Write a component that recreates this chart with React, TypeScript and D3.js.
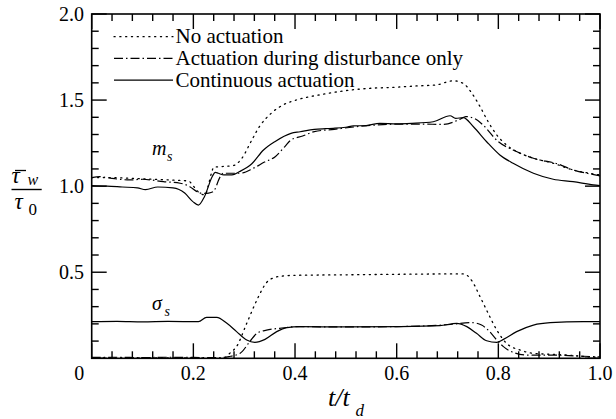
import React from "react";
import * as d3 from "d3";

// ---------- data (t/t_d , tau_w / tau_0) ----------
const xTickLabels = ["0", "0.2", "0.4", "0.6", "0.8", "1.0"];
const xMajorTicks = [0, 0.2, 0.4, 0.6, 0.8, 1.0];
const yTickLabels = ["0.5", "1.0", "1.5", "2.0"];
const yLabeledTicks = [0.5, 1.0, 1.5, 2.0];
const yMajorTicks = [0, 0.5, 1.0, 1.5, 2.0];

const legendLabels = ["No actuation", "Actuation during disturbance only", "Continuous actuation"];

// m_s curves
const msNoActuation: [number, number][] = [
  [0, 1.05], [0.04, 1.05], [0.08, 1.045], [0.12, 1.04], [0.16, 1.035], [0.19, 1.03],
  [0.203, 0.99], [0.213, 0.958], [0.223, 0.95], [0.229, 1.0], [0.236, 1.08], [0.24, 1.11],
  [0.252, 1.113], [0.279, 1.12], [0.295, 1.16], [0.315, 1.268], [0.33, 1.346], [0.353, 1.423],
  [0.376, 1.471], [0.407, 1.504], [0.454, 1.533], [0.5, 1.555], [0.546, 1.568], [0.593, 1.574],
  [0.639, 1.582], [0.678, 1.588], [0.711, 1.612], [0.731, 1.597], [0.748, 1.539], [0.764, 1.462],
  [0.78, 1.374], [0.797, 1.297], [0.816, 1.239], [0.843, 1.191], [0.869, 1.162], [0.908, 1.133],
  [0.947, 1.094], [0.98, 1.075], [1.0, 1.065],
];
const msDuringOnly: [number, number][] = [
  [0, 1.05], [0.016, 1.055], [0.04, 1.045], [0.075, 1.036], [0.1, 1.04], [0.141, 1.026],
  [0.174, 1.017], [0.193, 0.997], [0.207, 0.968], [0.218, 0.958], [0.23, 0.96], [0.239, 0.968],
  [0.253, 1.055], [0.259, 1.075], [0.292, 1.075], [0.318, 1.104], [0.34, 1.14], [0.361, 1.171],
  [0.38, 1.23], [0.392, 1.268], [0.415, 1.291], [0.438, 1.317], [0.477, 1.33], [0.52, 1.345],
  [0.56, 1.355], [0.6, 1.36], [0.65, 1.36], [0.693, 1.359], [0.724, 1.388], [0.736, 1.404],
  [0.755, 1.39], [0.77, 1.355], [0.8, 1.258], [0.829, 1.21], [0.869, 1.162], [0.918, 1.128],
  [0.947, 1.094], [0.974, 1.075], [1.0, 1.06],
];
const msContinuous: [number, number][] = [
  [0, 1.003], [0.03, 1.0], [0.06, 0.995], [0.09, 0.99], [0.106, 0.98], [0.13, 0.995],
  [0.16, 0.99], [0.183, 0.96], [0.199, 0.91], [0.21, 0.89], [0.222, 0.94], [0.237, 1.055],
  [0.243, 1.08], [0.249, 1.075], [0.26, 1.065], [0.276, 1.065], [0.291, 1.085], [0.315, 1.13],
  [0.338, 1.21], [0.361, 1.26], [0.392, 1.307], [0.41, 1.316], [0.438, 1.33], [0.46, 1.334],
  [0.475, 1.336], [0.5, 1.342], [0.515, 1.35], [0.54, 1.352], [0.567, 1.365], [0.6, 1.362],
  [0.63, 1.365], [0.672, 1.374], [0.705, 1.409], [0.716, 1.394], [0.731, 1.398], [0.751, 1.345],
  [0.777, 1.258], [0.803, 1.181], [0.829, 1.133], [0.869, 1.075], [0.908, 1.04], [0.947, 1.026],
  [0.987, 1.007], [1.0, 1.003],
];

// sigma_s curves
const sigNoActuation: [number, number][] = [
  [0, 0.002], [0.1, 0.002], [0.2, 0.002], [0.259, 0.0], [0.272, 0.03], [0.285, 0.068],
  [0.305, 0.203], [0.325, 0.339], [0.344, 0.44], [0.36, 0.47], [0.376, 0.478], [0.4, 0.482],
  [0.5, 0.485], [0.6, 0.488], [0.7, 0.49], [0.732, 0.49], [0.748, 0.45], [0.764, 0.358],
  [0.78, 0.261], [0.797, 0.164], [0.816, 0.087], [0.843, 0.048], [0.869, 0.029], [0.935, 0.019],
  [0.98, 0.008], [1.0, 0.005],
];
const sigDuringOnly: [number, number][] = [
  [0, 0.005], [0.05, 0.006], [0.1, 0.004], [0.15, 0.006], [0.2, 0.005], [0.25, 0.004],
  [0.27, 0.01], [0.292, 0.029], [0.311, 0.097], [0.325, 0.145], [0.344, 0.164], [0.37, 0.174],
  [0.403, 0.184], [0.5, 0.182], [0.6, 0.184], [0.7, 0.195], [0.748, 0.207], [0.767, 0.193],
  [0.78, 0.164], [0.797, 0.106], [0.81, 0.068], [0.823, 0.042], [0.856, 0.019], [0.902, 0.019],
  [0.967, 0.012], [1.0, 0.008],
];
const sigContinuous: [number, number][] = [
  [0, 0.213], [0.05, 0.215], [0.1, 0.212], [0.15, 0.214], [0.21, 0.213], [0.226, 0.238],
  [0.246, 0.238], [0.266, 0.203], [0.285, 0.155], [0.305, 0.106], [0.321, 0.093], [0.341, 0.11],
  [0.364, 0.155], [0.384, 0.178], [0.41, 0.184], [0.5, 0.182], [0.607, 0.184], [0.685, 0.19],
  [0.718, 0.203], [0.738, 0.184], [0.757, 0.145], [0.777, 0.102], [0.797, 0.093], [0.81, 0.11],
  [0.836, 0.155], [0.869, 0.193], [0.902, 0.207], [0.967, 0.213], [1.0, 0.213],
];

// ---------- layout ----------
const W = 616;
const H = 419;
const left = 91.7, right = 600, top = 14, bottom = 358.3;
const FONT = "'Liberation Serif', 'Times New Roman', 'DejaVu Serif', serif";

const DOT = "1.2 4.6";
const DASHDOT = "9 3 1.5 3";

const T = (props: any) => <text {...props} style={{ fontFamily: FONT }} />;

export default function App() {
  const x = d3.scaleLinear().domain([0, 1]).range([left, right]);
  const y = d3.scaleLinear().domain([0, 2]).range([bottom, top]);
  const line = d3
    .line<[number, number]>()
    .x((d) => x(d[0]))
    .y((d) => y(d[1]))
    .curve(d3.curveMonotoneX);

  const xMinor = d3.range(0, 1.0001, 0.04).filter((v) => !xMajorTicks.some((m) => Math.abs(m - v) < 1e-6));
  const yMinor = d3.range(0, 2.0001, 0.1).filter((v) => !yMajorTicks.some((m) => Math.abs(m - v) < 1e-6));
  const majLen = 15, minLen = 7;

  const series = [
    { data: msNoActuation, dash: DOT, w: 1.3 },
    { data: sigNoActuation, dash: DOT, w: 1.3 },
    { data: msDuringOnly, dash: DASHDOT, w: 1.2 },
    { data: sigDuringOnly, dash: DASHDOT, w: 1.2 },
    { data: msContinuous, dash: undefined, w: 1.2 },
    { data: sigContinuous, dash: undefined, w: 1.2 },
  ];
  const legendDash = [DOT, DASHDOT, undefined];

  return (
    <svg width={W} height={H} style={{ position: "absolute", left: 0, top: 0, background: "#fff", fontFamily: FONT }}>
      <rect x={0} y={0} width={W} height={H} fill="#fff" />
      <defs>
        <clipPath id="plot">
          <rect x={left} y={top} width={right - left} height={bottom - top} />
        </clipPath>
      </defs>

      {/* data */}
      <g clipPath="url(#plot)" fill="none" stroke="#000">
        {series.map((s, i) => (
          <path key={i} d={line(s.data) || ""} strokeWidth={s.w} strokeDasharray={s.dash} strokeLinecap={s.dash === DOT ? "round" : "butt"} />
        ))}
      </g>

      {/* frame */}
      <rect x={left} y={top} width={right - left} height={bottom - top} fill="none" stroke="#000" strokeWidth={1.6} />

      {/* ticks */}
      <g stroke="#000" strokeWidth={1.4}>
        {xMajorTicks.map((t) => (
          <g key={"xm" + t}>
            <line x1={x(t)} x2={x(t)} y1={bottom} y2={bottom - majLen} />
            <line x1={x(t)} x2={x(t)} y1={top} y2={top + majLen} />
          </g>
        ))}
        {xMinor.map((t) => (
          <g key={"xn" + t}>
            <line x1={x(t)} x2={x(t)} y1={bottom} y2={bottom - minLen} />
            <line x1={x(t)} x2={x(t)} y1={top} y2={top + minLen} />
          </g>
        ))}
        {yMajorTicks.map((v) => (
          <g key={"ym" + v}>
            <line x1={left} x2={left + majLen} y1={y(v)} y2={y(v)} />
            <line x1={right} x2={right - majLen} y1={y(v)} y2={y(v)} />
          </g>
        ))}
        {yMinor.map((v) => (
          <g key={"yn" + v}>
            <line x1={left} x2={left + minLen} y1={y(v)} y2={y(v)} />
            <line x1={right} x2={right - minLen} y1={y(v)} y2={y(v)} />
          </g>
        ))}
      </g>

      {/* tick labels */}
      <g fontSize={20} fill="#000">
        {xMajorTicks.map((t, i) => (
          <T key={"xl" + t} x={x(t) - (i === 0 ? 12.5 : 0)} y={380} textAnchor="middle">
            {xTickLabels[i]}
          </T>
        ))}
        {yLabeledTicks.map((v, i) => (
          <T key={"yl" + v} x={84} y={y(v) + 6.5} textAnchor="end">
            {yTickLabels[i]}
          </T>
        ))}
      </g>

      {/* legend */}
      <g>
        {legendLabels.map((lab, i) => {
          const ly = 36.7 + i * 21.7;
          return (
            <g key={lab}>
              <line x1={114} x2={173} y1={ly} y2={ly} stroke="#000" strokeWidth={1.2} strokeDasharray={legendDash[i]} strokeLinecap={i === 0 ? "round" : "butt"} />
              <T x={175.5} y={ly + 6.6} fontSize={21} fill="#000">
                {lab}
              </T>
            </g>
          );
        })}
      </g>

      {/* curve annotations */}
      <T x={152} y={155} fontSize={20} fontStyle="italic">m</T>
      <T x={167} y={160.5} fontSize={14} fontStyle="italic">s</T>
      <T x={152} y={310} fontSize={20} fontStyle="italic">σ</T>
      <T x={164.5} y={315.5} fontSize={14} fontStyle="italic">s</T>

      {/* x label */}
      <T x={328} y={406} fontSize={26} fontStyle="italic">t/t</T>
      <T x={355.5} y={415.5} fontSize={17} fontStyle="italic">d</T>

      {/* y label */}
      <line x1={15} x2={26} y1={170.5} y2={170.5} stroke="#000" strokeWidth={1.3} />
      <T x={11.5} y={182.5} fontSize={23} fontStyle="italic">τ</T>
      <T x={27.5} y={184.5} fontSize={16} fontStyle="italic">w</T>
      <line x1={11.5} x2={41.7} y1={189.5} y2={189.5} stroke="#000" strokeWidth={1.4} />
      <T x={14.5} y={208.5} fontSize={23} fontStyle="italic">τ</T>
      <T x={28.5} y={215} fontSize={17}>0</T>
    </svg>
  );
}
